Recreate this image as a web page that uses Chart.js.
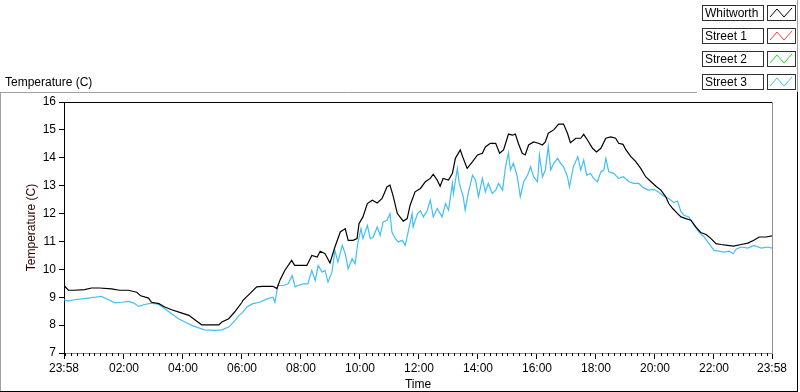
<!DOCTYPE html>
<html>
<head>
<meta charset="utf-8">
<script src="https://cdn.jsdelivr.net/npm/chart.js@4/dist/chart.umd.min.js"></script>
<style>
  html, body { margin: 0; padding: 0; background: #fff; }
  #wrap { width: 800px; height: 392px; position: relative; }
</style>
</head>
<body>
<div id="wrap"><canvas id="myChart" width="800" height="392"></canvas></div>
<script>
// legend entries
const seriesNames = ["Whitworth", "Street 1", "Street 2", "Street 3"];
const seriesColors = ["#000000", "#ff4040", "#20e020", "#40bff5"];

// time in minutes after midnight (-2 = 23:58 of the previous day)
const whitworthMin = [-2, 7, 19, 40, 54, 70, 95, 111, 129, 146, 154, 170, 176, 191, 203, 217, 238, 252, 264, 278,
  299, 313, 319, 333, 345, 360, 362, 376, 390, 401, 423, 431, 437, 447, 461, 467, 492, 502, 513, 519,
  529, 539, 549, 560, 570, 576, 586, 594, 598, 606, 615, 625, 635, 645, 655, 661, 667, 676, 688, 696,
  702, 712, 723, 733, 743, 749, 757, 763, 769, 780, 788, 794, 804, 810, 818, 829, 839, 849, 855, 865,
  876, 884, 892, 902, 910, 916, 922, 930, 936, 943, 953, 963, 971, 977, 983, 994, 1004, 1014, 1022, 1028,
  1039, 1049, 1055, 1063, 1073, 1081, 1090, 1100, 1110, 1120, 1126, 1135, 1141, 1151, 1161, 1171, 1181, 1192, 1202, 1212,
  1222, 1228, 1236, 1246, 1253, 1263, 1273, 1283, 1293, 1304, 1314, 1324, 1334, 1348, 1360, 1375, 1389, 1401, 1412, 1426, 1438];
const whitworthTemp = [9.42, 9.25, 9.25, 9.27, 9.33, 9.33, 9.30, 9.25, 9.25, 9.18, 9.05, 8.97, 8.82, 8.77, 8.65, 8.55, 8.43, 8.35, 8.19, 8.01,
  8.01, 8.01, 8.11, 8.23, 8.47, 8.82, 8.89, 9.13, 9.37, 9.39, 9.39, 9.31, 9.60, 9.96, 10.32, 10.14, 10.14, 10.50, 10.44, 10.65,
  10.56, 10.23, 10.80, 11.34, 11.46, 11.04, 11.04, 11.10, 11.64, 11.88, 12.36, 12.48, 12.38, 12.54, 12.96, 13.02, 12.66, 12.00, 11.73, 11.82,
  12.30, 12.78, 12.90, 13.14, 13.26, 13.41, 13.20, 12.98, 13.26, 13.20, 13.44, 13.98, 14.28, 13.98, 13.62, 13.86, 14.10, 14.16, 14.39, 14.52,
  14.52, 14.16, 14.28, 14.85, 14.81, 14.85, 14.52, 14.16, 14.10, 14.46, 14.57, 14.52, 14.46, 14.57, 14.88, 15.00, 15.21, 15.21, 14.88, 14.54,
  14.70, 14.70, 14.84, 14.63, 14.34, 14.21, 14.34, 14.70, 14.75, 14.70, 14.52, 14.48, 14.28, 14.04, 13.86, 13.62, 13.32, 13.14, 12.98, 12.84,
  12.60, 12.36, 12.18, 12.00, 11.88, 11.82, 11.76, 11.52, 11.32, 11.25, 11.10, 10.92, 10.89, 10.86, 10.83, 10.89, 10.94, 11.04, 11.16, 11.16, 11.20];

const street1Min = [];
const street1Temp = [];
const street2Min = [];
const street2Temp = [];

const street3Min = [-2, 7, 19, 34, 48, 60, 74, 89, 101, 115, 129, 140, 150, 162, 176, 191, 203, 217, 231, 244,
  258, 272, 284, 305, 319, 333, 343, 354, 360, 370, 382, 396, 411, 423, 427, 433, 443, 454, 462, 468,
  474, 484, 494, 502, 509, 515, 523, 529, 535, 543, 549, 555, 564, 570, 576, 584, 590, 596, 602, 606,
  615, 621, 627, 635, 641, 647, 655, 661, 665, 672, 678, 686, 692, 698, 706, 708, 717, 723, 729, 737,
  743, 749, 757, 767, 774, 780, 788, 790, 798, 802, 810, 814, 820, 829, 835, 841, 849, 855, 861, 869,
  876, 882, 890, 896, 902, 906, 912, 920, 926, 933, 941, 947, 953, 961, 965, 971, 977, 983, 988, 994,
  1002, 1008, 1014, 1022, 1026, 1034, 1043, 1049, 1055, 1061, 1069, 1075, 1083, 1090, 1096, 1100, 1106, 1116, 1126, 1136,
  1147, 1157, 1167, 1177, 1187, 1198, 1208, 1218, 1228, 1238, 1246, 1253, 1259, 1269, 1279, 1289, 1300, 1310, 1320, 1330,
  1340, 1351, 1359, 1365, 1375, 1389, 1401, 1416, 1430, 1438];
const street3Temp = [8.91, 8.86, 8.91, 8.94, 8.97, 9.00, 9.03, 8.91, 8.80, 8.82, 8.85, 8.79, 8.67, 8.74, 8.79, 8.74, 8.59, 8.41, 8.23, 8.11,
  7.99, 7.90, 7.83, 7.81, 7.83, 7.93, 8.11, 8.35, 8.43, 8.65, 8.77, 8.82, 8.94, 9.00, 8.82, 9.42, 9.42, 9.48, 9.78, 9.37,
  9.42, 9.48, 9.48, 9.96, 9.60, 10.14, 9.90, 9.96, 9.54, 9.90, 10.68, 10.26, 10.86, 10.56, 10.02, 10.38, 10.20, 10.98, 11.46, 11.10,
  11.58, 11.10, 11.16, 11.52, 11.22, 11.70, 11.76, 12.00, 11.34, 11.10, 10.98, 11.04, 10.86, 11.34, 12.00, 11.52, 12.00, 12.10, 11.88, 12.12,
  12.48, 11.88, 12.18, 11.88, 12.36, 12.12, 13.08, 12.72, 13.62, 13.08, 12.60, 12.12, 12.72, 13.38, 13.20, 12.60, 13.26, 12.78, 13.08, 12.72,
  12.84, 13.08, 12.84, 13.68, 14.18, 13.56, 13.80, 13.32, 12.60, 13.14, 13.38, 13.68, 13.32, 13.14, 14.10, 13.32, 13.56, 14.42, 13.56, 13.80,
  13.98, 13.80, 13.68, 13.32, 12.96, 13.68, 14.04, 13.56, 13.92, 13.38, 13.44, 13.26, 13.14, 13.50, 13.56, 13.98, 13.50, 13.44, 13.26, 13.32,
  13.14, 13.08, 13.08, 12.92, 12.84, 12.87, 12.76, 12.62, 12.54, 12.40, 12.44, 12.06, 11.94, 11.88, 11.58, 11.34, 11.16, 10.92, 10.68, 10.65,
  10.62, 10.65, 10.56, 10.72, 10.80, 10.76, 10.86, 10.76, 10.80, 10.76];

const yTicks = [7, 8, 9, 10, 11, 12, 13, 14, 15, 16];
const xTickMin = [-2, 120, 240, 360, 480, 600, 720, 840, 960, 1080, 1200, 1320, 1438];

function toPoints(mins, temps)
{
  return mins.map((m, i) => ({x: m, y: temps[i]}));
}

function minLabel(v)
{
  const m = ((Math.round(v) % 1440) + 1440) % 1440;
  return String(Math.floor(m / 60)).padStart(2, "0") + ":" + String(m % 60).padStart(2, "0");
}

const seriesData = [
  toPoints(whitworthMin, whitworthTemp),
  toPoints(street1Min, street1Temp),
  toPoints(street2Min, street2Temp),
  toPoints(street3Min, street3Temp),
];

const FONT = "'Liberation Sans', Arial, sans-serif";
Chart.defaults.font.family = FONT;
Chart.defaults.font.size = 12;
Chart.defaults.color = "#000";

// panel frame, plot frame, minor ticks, legend and top label
const framePlugin = {
  id: "frame",
  beforeDraw(chart)
  {
    const ctx = chart.ctx;
    ctx.save();
    ctx.fillStyle = "#fff";
    ctx.fillRect(0, 0, chart.width, chart.height);
    ctx.lineWidth = 1;
    ctx.strokeStyle = "#a0a0a0";
    ctx.beginPath();
    ctx.moveTo(0, 92.5); ctx.lineTo(697, 92.5);
    ctx.moveTo(0.5, 92); ctx.lineTo(0.5, 391);
    ctx.moveTo(797.5, 0); ctx.lineTo(797.5, 92);
    ctx.stroke();
    ctx.strokeStyle = "#000";
    ctx.beginPath();
    ctx.moveTo(0, 391.5); ctx.lineTo(798, 391.5);
    ctx.moveTo(797.5, 92); ctx.lineTo(797.5, 392);
    ctx.stroke();
    ctx.fillStyle = "#000";
    ctx.font = "12px " + FONT;
    ctx.textBaseline = "alphabetic";
    ctx.fillText("Temperature (C)", 5, 86);
    ctx.restore();
  },
  afterDraw(chart)
  {
    const ctx = chart.ctx;
    const a = chart.chartArea;
    const xs = chart.scales.x;
    ctx.save();
    ctx.lineWidth = 1;
    ctx.strokeStyle = "#000";
    ctx.beginPath();
    ctx.moveTo(a.left, a.top + 0.5); ctx.lineTo(a.right, a.top + 0.5);
    ctx.stroke();
    ctx.strokeStyle = "#909090";
    ctx.beginPath();
    ctx.moveTo(a.right + 0.5, a.top); ctx.lineTo(a.right + 0.5, a.bottom);
    ctx.stroke();
    // minor ticks every 12 minutes
    ctx.strokeStyle = "#000";
    ctx.beginPath();
    for (let m = 0; m < 1438; m += 12)
    {
      if (m % 120 === 0 && m > 0) continue;
      const px = Math.round(xs.getPixelForValue(m)) + 0.5;
      ctx.moveTo(px, a.bottom); ctx.lineTo(px, a.bottom + 3);
    }
    ctx.stroke();

    // legend
    seriesNames.forEach((name, i) =>
    {
      const top = 5 + i * 23;
      ctx.fillStyle = "#fff";
      ctx.fillRect(702, top, 61, 15);
      ctx.strokeStyle = "#303030";
      ctx.strokeRect(702.5, top + 0.5, 61, 15);
      ctx.strokeRect(767.5, top + 0.5, 28, 15);
      ctx.fillStyle = "#000";
      ctx.font = "12px " + FONT;
      ctx.textBaseline = "middle";
      ctx.fillText(name, 705, top + 8.5);
      ctx.strokeStyle = seriesColors[i];
      ctx.beginPath();
      ctx.moveTo(770, top + 12);
      ctx.lineTo(777, top + 4);
      ctx.lineTo(784, top + 12);
      ctx.lineTo(792, top + 3);
      ctx.stroke();
    });
    ctx.restore();
  }
};

const ctxEl = document.getElementById("myChart");
new Chart(ctxEl, {
  type: "line",
  data: {
    datasets: seriesNames.map((name, i) => ({
      label: name,
      data: seriesData[i],
      borderColor: seriesColors[i],
      borderWidth: 1.2,
      pointRadius: 0,
      tension: 0,
      fill: false,
    })),
  },
  options: {
    responsive: false,
    animation: false,
    devicePixelRatio: 1,
    layout: {padding: {top: 102, right: 28, left: 0, bottom: 0}},
    plugins: {
      legend: {display: false},
      tooltip: {enabled: false},
    },
    scales: {
      x: {
        type: "linear",
        min: -2,
        max: 1438,
        afterBuildTicks: (scale) => { scale.ticks = xTickMin.map(v => ({value: v})); },
        afterFit: (scale) => { scale.height = 39; },
        ticks: {
          autoSkip: false,
          maxRotation: 0,
          padding: 2,
          callback: (v) => minLabel(v),
          font: {size: 12},
        },
        grid: {drawOnChartArea: false, drawTicks: true, tickLength: 6, color: "#000"},
        border: {color: "#909090"},
        title: {display: true, text: "Time", padding: {top: 0, bottom: 0}, font: {size: 12}},
      },
      y: {
        min: 7,
        max: 16,
        afterBuildTicks: (scale) => { scale.ticks = yTicks.map(v => ({value: v})); },
        afterFit: (scale) => { scale.width = 64; },
        ticks: {padding: 3, font: {size: 12}},
        grid: {drawOnChartArea: false, drawTicks: true, tickLength: 5, color: "#000"},
        border: {color: "#000"},
        title: {display: true, text: "Temperature (C)", color: "#300000", padding: {top: 24, bottom: 0}, font: {size: 12}},
      },
    },
  },
  plugins: [framePlugin],
});
</script>
</body>
</html>
